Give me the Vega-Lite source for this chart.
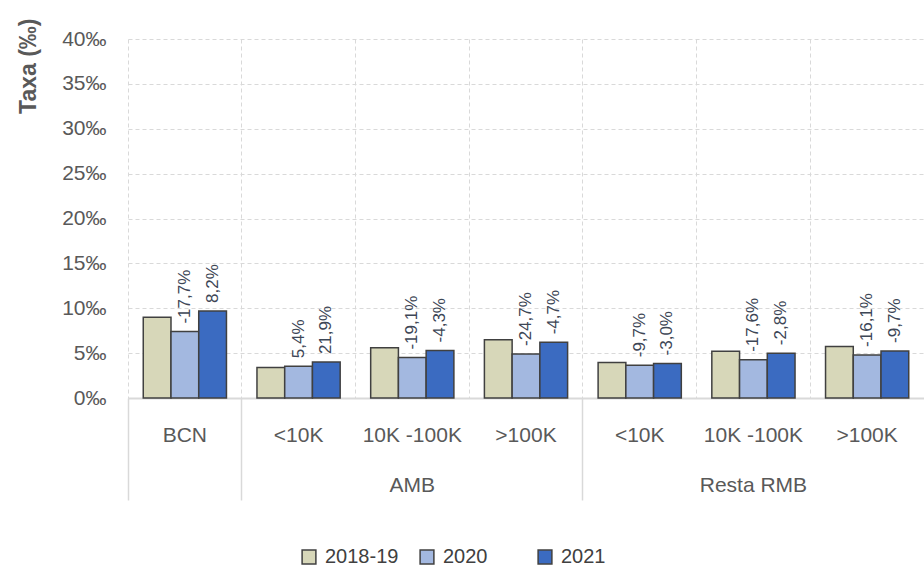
{
  "$schema": "https://vega.github.io/schema/vega-lite/v6.json",
  "width": 796,
  "height": 359,
  "autosize": "none",
  "padding": {"left": 128, "top": 39, "right": 0, "bottom": 174},
  "config": {"view": {"stroke": null}, "font": "Liberation Sans"},
  "data": {
    "values": [
      {"cat": "BCN", "series": "2018-19", "value": 9.0, "label": ""},
      {"cat": "BCN", "series": "2020", "value": 7.4, "label": "-17,7%"},
      {"cat": "BCN", "series": "2021", "value": 9.7, "label": "8,2%"},
      {"cat": "A1", "series": "2018-19", "value": 3.4, "label": ""},
      {"cat": "A1", "series": "2020", "value": 3.55, "label": "5,4%"},
      {"cat": "A1", "series": "2021", "value": 4.0, "label": "21,9%"},
      {"cat": "A2", "series": "2018-19", "value": 5.6, "label": ""},
      {"cat": "A2", "series": "2020", "value": 4.5, "label": "-19,1%"},
      {"cat": "A2", "series": "2021", "value": 5.3, "label": "-4,3%"},
      {"cat": "A3", "series": "2018-19", "value": 6.5, "label": ""},
      {"cat": "A3", "series": "2020", "value": 4.9, "label": "-24,7%"},
      {"cat": "A3", "series": "2021", "value": 6.2, "label": "-4,7%"},
      {"cat": "R1", "series": "2018-19", "value": 3.95, "label": ""},
      {"cat": "R1", "series": "2020", "value": 3.65, "label": "-9,7%"},
      {"cat": "R1", "series": "2021", "value": 3.85, "label": "-3,0%"},
      {"cat": "R2", "series": "2018-19", "value": 5.2, "label": ""},
      {"cat": "R2", "series": "2020", "value": 4.25, "label": "-17,6%"},
      {"cat": "R2", "series": "2021", "value": 5.0, "label": "-2,8%"},
      {"cat": "R3", "series": "2018-19", "value": 5.75, "label": ""},
      {"cat": "R3", "series": "2020", "value": 4.8, "label": "-16,1%"},
      {"cat": "R3", "series": "2021", "value": 5.25, "label": "-9,7%"}
    ]
  },
  "resolve": {"axis": {"x": "independent"}},
  "layer": [
    {
      "mark": {"type": "bar", "stroke": "#404040", "strokeWidth": 1.5},
      "encoding": {
        "x": {
          "field": "cat", "type": "nominal",
          "sort": ["BCN", "A1", "A2", "A3", "R1", "R2", "R3"],
          "scale": {"paddingInner": 0, "paddingOuter": 0},
          "axis": {
            "title": null, "orient": "bottom",
            "bandPosition": 0,
            "labelAngle": 0,
            "labelExpr": "datum.value == 'BCN' ? 'BCN' : (datum.value == 'A1' || datum.value == 'R1') ? '<10K' : (datum.value == 'A2' || datum.value == 'R2') ? '10K -100K' : '>100K'",
            "labelFontSize": 21, "labelColor": "#595959", "labelPadding": 26,
            "labelBaseline": "top",
            "grid": true, "gridColor": "#d9d9d9", "gridDash": [4, 3], "gridWidth": 1,
            "domain": true, "domainColor": "#d9d9d9", "domainWidth": 2,
            "ticks": false
          }
        },
        "xOffset": {
          "field": "series", "type": "nominal",
          "sort": ["2018-19", "2020", "2021"],
          "scale": {"paddingInner": 0, "paddingOuter": 0.55}
        },
        "y": {
          "field": "value", "type": "quantitative",
          "scale": {"domain": [0, 40], "nice": false},
          "axis": {
            "values": [0, 5, 10, 15, 20, 25, 30, 35, 40],
            "labelExpr": "datum.value + '‰'",
            "labelFontSize": 21, "labelColor": "#595959", "labelPadding": 22,
            "ticks": false, "domain": false,
            "grid": true, "gridColor": "#d9d9d9", "gridDash": [4, 3],
            "title": "Taxa (‰)", "titleFontSize": 23, "titleColor": "#595959", "titleFontWeight": "bold",
            "titleAngle": -90, "titleAlign": "right", "titleBaseline": "middle",
            "titleX": -100, "titleY": -21
          }
        },
        "color": {
          "field": "series", "type": "nominal",
          "scale": {"domain": ["2018-19", "2020", "2021"], "range": ["#d7d7b9", "#a3b8e0", "#3b6bc1"]},
          "legend": {
            "title": null, "orient": "none", "direction": "horizontal",
            "legendX": 171, "legendY": 508,
            "symbolType": "square", "symbolSize": 190,
            "symbolStrokeColor": "#404040", "symbolStrokeWidth": 1.5,
            "labelFontSize": 20, "labelColor": "#404040", "labelOffset": 6,
            "columnPadding": 18, "gridAlign": "all"
          }
        }
      }
    },
    {
      "mark": {"type": "text", "angle": 270, "align": "left", "baseline": "middle", "dx": 8, "fontSize": 17, "color": "#3d4656"},
      "encoding": {
        "x": {
          "field": "cat", "type": "nominal",
          "sort": ["BCN", "A1", "A2", "A3", "R1", "R2", "R3"],
          "axis": {
            "title": null, "orient": "bottom",
            "bandPosition": 0,
            "labelAngle": 0,
            "labelExpr": "datum.value == 'A2' ? 'AMB' : datum.value == 'R2' ? 'Resta RMB' : ''",
            "labelFontSize": 21, "labelColor": "#595959", "labelPadding": -26,
            "labelBaseline": "top",
            "grid": false, "domain": false,
            "ticks": true, "tickSize": 102, "tickWidth": 1.5, "tickColor": "#d9d9d9",
            "tickOpacity": {"condition": {"test": "datum.value == 'BCN' || datum.value == 'A1' || datum.value == 'R1'", "value": 1}, "value": 0}
          }
        },
        "xOffset": {"field": "series", "type": "nominal", "sort": ["2018-19", "2020", "2021"]},
        "y": {"field": "value", "type": "quantitative"},
        "text": {"field": "label"}
      }
    }
  ]
}
